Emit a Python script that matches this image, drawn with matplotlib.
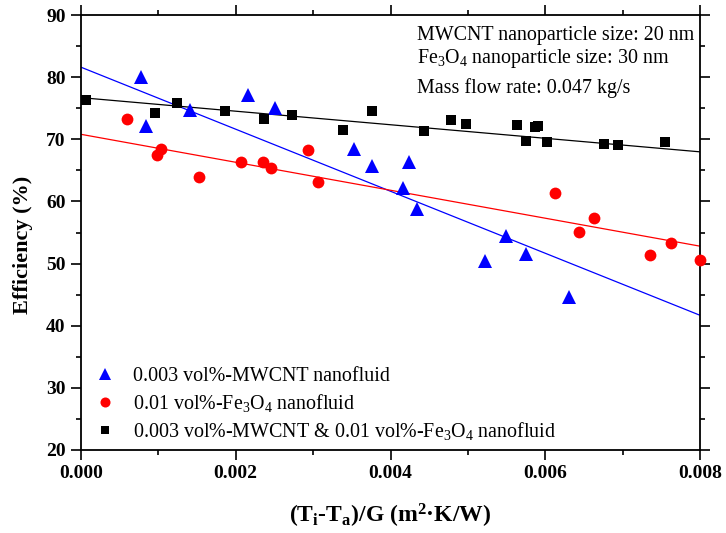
import numpy as np
import matplotlib
matplotlib.use("Agg")
import matplotlib.pyplot as plt

plt.rcParams.update({
    'font.family': 'Liberation Serif',
    'mathtext.fontset': 'custom',
    'mathtext.rm': 'Liberation Serif',
    'mathtext.it': 'Liberation Serif:italic',
    'mathtext.bf': 'Liberation Serif:bold',
    'font.size': 14,
})

# 0.003 vol%-MWCNT nanofluid
x_mwcnt = [0.00078, 0.00084, 0.00141, 0.00216, 0.00251, 0.00353, 0.00376,
           0.00416, 0.00424, 0.00434, 0.00522, 0.00549, 0.00575, 0.00631]
y_mwcnt = [80.0, 72.2, 74.7, 77.1, 75.1, 68.4, 65.7,
           62.1, 66.4, 58.8, 50.4, 54.5, 51.5, 44.7]

# 0.01 vol%-Fe3O4 nanofluid
x_fe = [0.00060, 0.00098, 0.00103, 0.00152, 0.00207, 0.00235, 0.00246,
        0.00294, 0.00306, 0.00613, 0.00644, 0.00663, 0.00736, 0.00763, 0.00800]
y_fe = [73.2, 67.5, 68.4, 63.9, 66.3, 66.3, 65.3,
        68.2, 63.1, 61.4, 55.1, 57.3, 51.3, 53.3, 50.6]

# 0.003 vol%-MWCNT & 0.01 vol%-Fe3O4 hybrid nanofluid
x_hyb = [0.00007, 0.00096, 0.00124, 0.00186, 0.00237, 0.00273, 0.00338, 0.00376,
         0.00443, 0.00478, 0.00498, 0.00563, 0.00575, 0.00587, 0.00590, 0.00602,
         0.00676, 0.00694, 0.00755]
y_hyb = [76.3, 74.2, 75.8, 74.6, 73.3, 73.9, 71.5, 74.6,
         71.4, 73.1, 72.5, 72.3, 69.8, 71.9, 72.2, 69.5,
         69.2, 69.1, 69.5]

# linear fits as drawn in the figure (intercept, slope), order: MWCNT, Fe3O4, hybrid
fit_intercept = [81.6, 70.8, 76.7]
fit_slope = [-4990.0, -2250.0, -1090.0]

x_ticks = [0.000, 0.002, 0.004, 0.006, 0.008]
y_ticks = [20, 30, 40, 50, 60, 70, 80, 90]

series = [
    (x_mwcnt, y_mwcnt, '^', 'blue', 9.5, '0.003 vol%-MWCNT nanofluid'),
    (x_fe, y_fe, 'o', 'red', 8.5, '0.01 vol%-Fe$_3$O$_4$ nanofluid'),
    (x_hyb, y_hyb, 's', 'black', 7, '0.003 vol%-MWCNT & 0.01 vol%-Fe$_3$O$_4$ nanofluid'),
]

fig = plt.figure(figsize=(7.26, 5.33), dpi=100)
ax = fig.add_axes([81 / 726, 1 - 450 / 533, 619 / 726, 435 / 533])

xfit = np.array([0.0, 0.008])
for (xs, ys, m, c, ms, lab), b, k in zip(series, fit_intercept, fit_slope):
    ax.plot(xs, ys, linestyle='none', marker=m, color=c, markersize=ms,
            markeredgewidth=0, label=lab, zorder=3, clip_on=False)
    ax.plot(xfit, k * xfit + b, color=c, linewidth=0.9, zorder=2)

ax.set_xlim(0, 0.008)
ax.set_ylim(20, 90)
ax.set_xticks(x_ticks)
ax.set_xticklabels([f'{v:.3f}' for v in x_ticks])
ax.set_yticks(y_ticks)
ax.set_xticks(np.arange(0.001, 0.008, 0.002), minor=True)
ax.set_yticks(np.arange(25, 90, 10), minor=True)
for lbl in ax.get_xticklabels() + ax.get_yticklabels():
    lbl.set_fontweight('bold')

ax.tick_params(which='both', direction='out', top=True, right=True, width=1.2)
ax.tick_params(which='major', length=7, labelsize=14, pad=4)
ax.tick_params(which='minor', length=3.5)
for s in ax.spines.values():
    s.set_linewidth(1.3)

ax.set_xlabel(r'(T$_\mathbf{i}$-T$_\mathbf{a}$)/G (m$^\mathbf{2}$·K/W)',
              fontsize=17, fontweight='bold', labelpad=14)
ax.set_ylabel('Efficiency (%)', fontsize=16, fontweight='bold')
ax.yaxis.set_label_coords(-0.078, 0.471)

ax.text(0.543, 0.954, 'MWCNT nanoparticle size: 20 nm', transform=ax.transAxes,
        ha='left', va='center', fontsize=14.4)
ax.text(0.543, 0.899, 'Fe$_3$O$_4$ nanoparticle size: 30 nm', transform=ax.transAxes,
        ha='left', va='center', fontsize=14.4)
ax.text(0.543, 0.832, 'Mass flow rate: 0.047 kg/s', transform=ax.transAxes,
        ha='left', va='center', fontsize=14.4)

leg = ax.legend(loc='lower left', frameon=False, fontsize=14.4, handletextpad=0.8,
                handlelength=1.2, labelspacing=0.3, borderaxespad=0.3,
                bbox_to_anchor=(-0.003, -0.013), markerscale=0.85)

fig.savefig('out.png', dpi=100)
